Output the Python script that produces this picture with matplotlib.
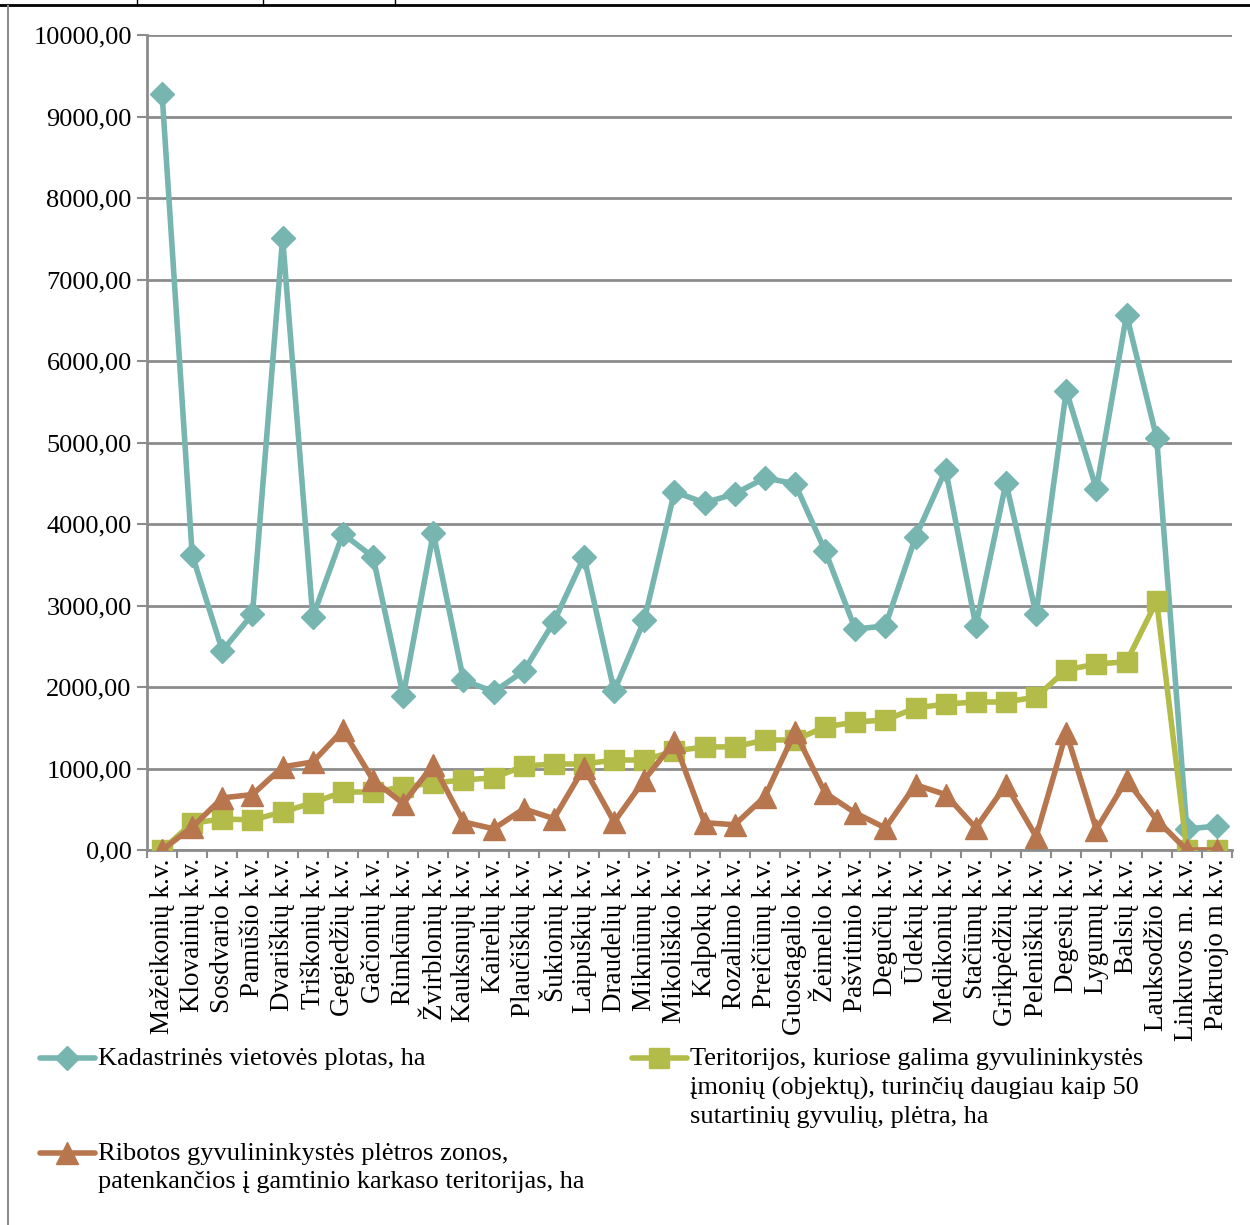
import numpy as np
import matplotlib.pyplot as plt
from matplotlib.lines import Line2D

plt.rcParams['font.family'] = ['Liberation Serif', 'DejaVu Serif']

categories = ['Mažeikonių k.v.', 'Klovainių k.v.', 'Sosdvario k.v.', 'Pamūšio k.v.',
              'Dvariškių k.v.', 'Triškonių k.v.', 'Gegiedžių k.v.', 'Gačionių k.v.',
              'Rimkūnų k.v.', 'Žvirblonių k.v.', 'Kauksnujų k.v.', 'Kairelių k.v.',
              'Plaučiškių k.v.', 'Šukionių k.v.', 'Laipuškių k.v.', 'Draudelių k.v.',
              'Mikniūnų k.v.', 'Mikoliškio k.v.', 'Kalpokų k.v.', 'Rozalimo k.v.',
              'Preičiūnų k.v.', 'Guostagalio k.v.', 'Žeimelio k.v.', 'Pašvitinio k.v.',
              'Degučių k.v.', 'Ūdekių k.v.', 'Medikonių k.v.', 'Stačiūnų k.v.',
              'Grikpėdžių k.v.', 'Peleniškių k.v.', 'Degesių k.v.', 'Lygumų k.v.',
              'Balsių k.v.', 'Lauksodžio k.v.', 'Linkuvos m. k.v.', 'Pakruojo m k.v.']

# Kadastrinės vietovės plotas, ha
plotas = [9280, 3620, 2445, 2895, 7510, 2860, 3880, 3595, 1890, 3890,
          2085, 1940, 2195, 2800, 3595, 1950, 2820, 4395, 4260, 4370,
          4565, 4495, 3670, 2710, 2750, 3840, 4665, 2750, 4505, 2895,
          5635, 4430, 6565, 5055, 258, 294]

# Teritorijos, kuriose galima gyvulininkystės plėtra, ha
pletra = [0, 330, 380, 370, 466, 580, 712, 712, 773, 822,
          860, 885, 1030, 1055, 1055, 1104, 1104, 1215, 1265, 1265,
          1350, 1350, 1510, 1570, 1595, 1742, 1791, 1816, 1816, 1877,
          2210, 2282, 2310, 3055, 0, 0]

# Ribotos gyvulininkystės plėtros zonos, ha
ribotos = [0, 280, 640, 680, 1020, 1080, 1470, 860, 570, 1045,
           345, 260, 505, 385, 1010, 345, 860, 1330, 335, 310,
           655, 1450, 700, 455, 270, 800, 680, 270, 800, 165,
           1440, 250, 860, 370, 0, 0]

labels = ['Kadastrinės vietovės plotas, ha',
          'Teritorijos, kuriose galima gyvulininkystės\n'
          'įmonių (objektų), turinčių daugiau kaip 50\n'
          'sutartinių gyvulių, plėtra, ha',
          'Ribotos gyvulininkystės plėtros zonos,\n'
          'patenkančios į gamtinio karkaso teritorijas, ha']

c_teal = '#77B5B0'
c_green = '#B3BB49'
c_brown = '#B8764E'
c_grid = '#8C8C8C'

W, H = 1250, 1225
fig = plt.figure(figsize=(12.5, 12.25), dpi=100)
ax = fig.add_axes([147 / W, 1 - 850 / H, (1232 - 147) / W, (850 - 35) / H])

styles = [dict(color=c_teal, lw=4, marker='D', ms=12),
          dict(color=c_green, lw=4, marker='s', ms=14),
          dict(color=c_brown, lw=4, marker='^', ms=16)]

x = np.arange(len(categories))
ax.plot(x, plotas, zorder=3, **styles[0])
ax.plot(x, pletra, zorder=3, **styles[1])
ax.plot(x, ribotos, zorder=4, **styles[2])

ax.set_xlim(-0.5, len(categories) - 0.5)
ax.set_ylim(0, 10000)
yt = np.arange(0, 10001, 1000)
ax.set_yticks(yt)
ax.set_yticklabels(['{:.2f}'.format(v).replace('.', ',') for v in yt], fontsize=19)
ax.set_xticks(x)
ax.set_xticklabels(categories, rotation=90, fontsize=19.5)
ax.set_xticks(np.arange(-0.5, len(categories), 1), minor=True)
ax.tick_params(axis='x', which='major', length=0, pad=6)
ax.tick_params(axis='x', which='minor', length=6, width=1.5, color=c_grid)
ax.tick_params(axis='y', length=7, width=1.5, color=c_grid, pad=4)
ax.grid(axis='y', color=c_grid, lw=2)
ax.set_axisbelow(True)
for s in ['top', 'right']:
    ax.spines[s].set_visible(False)
for s in ['left', 'bottom']:
    ax.spines[s].set_color(c_grid)
    ax.spines[s].set_linewidth(2)

# legend drawn by hand so the key sits on the first text line
pos = [(40, 1058), (632, 1058), (40, 1153)]
for (px, py), st, lab in zip(pos, styles, labels):
    fig.add_artist(Line2D([px / W, (px + 55) / W], [1 - py / H] * 2,
                          color=st['color'], lw=st['lw'], solid_capstyle='round'))
    fig.add_artist(Line2D([(px + 27) / W], [1 - py / H], ls='none',
                          marker=st['marker'], ms=st['ms'], color=st['color']))
    fig.text((px + 58) / W, 1 - (py - 10) / H, lab, fontsize=19, va='top',
             ha='left', linespacing=1.38)

# outer frame of the original page
fig.add_artist(Line2D([0, 1], [1 - 5 / H] * 2, color='black', lw=2))
fig.add_artist(Line2D([8 / W] * 2, [0, 1 - 6 / H], color=c_grid, lw=1.5))
for xv in [137, 263, 395]:
    fig.add_artist(Line2D([xv / W] * 2, [1 - 5 / H, 1], color='black', lw=1))

fig.savefig('out.png', dpi=100)
